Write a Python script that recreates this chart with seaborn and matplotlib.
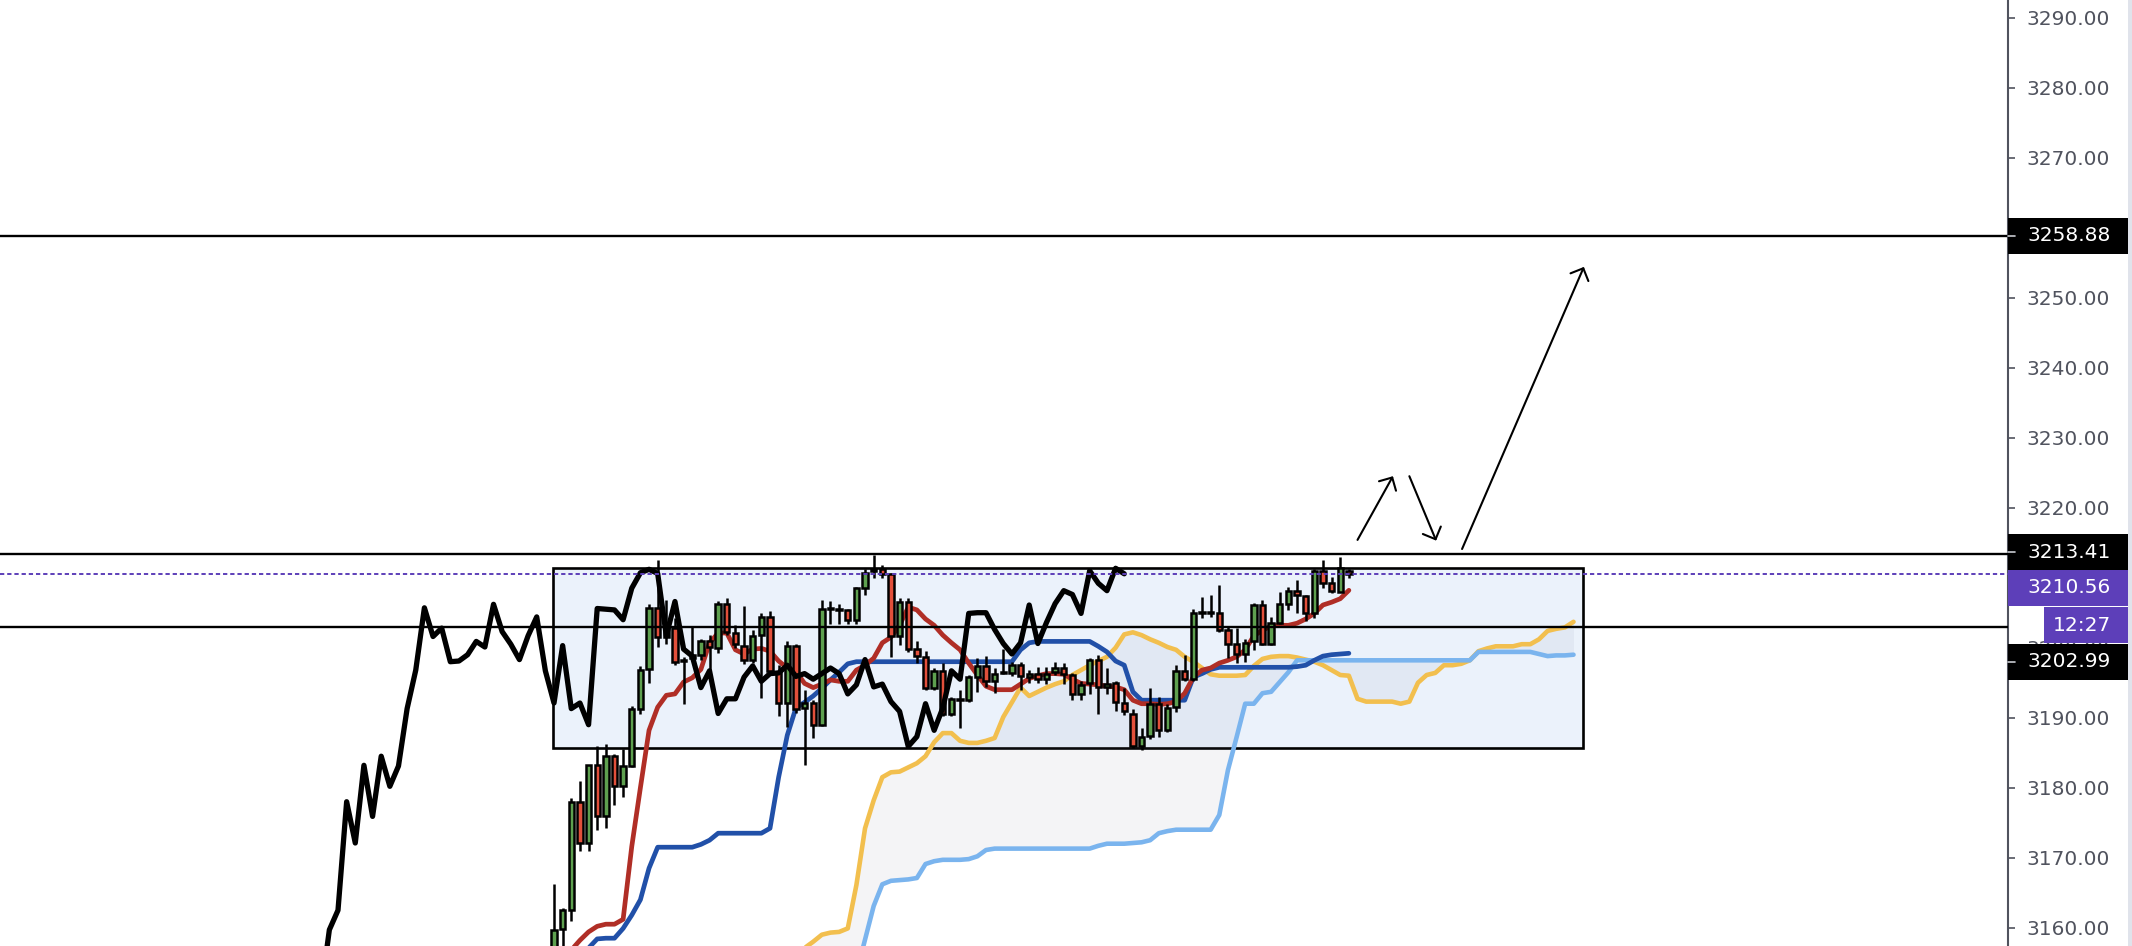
import matplotlib

matplotlib.use("Agg")

import matplotlib.pyplot as plt
import numpy as np
import pandas as pd
import seaborn as sns
from matplotlib.patches import Rectangle
from matplotlib.ticker import FuncFormatter


# candles, bar index starts at -1
FIRST_BAR = -1
opens = [
    3149.0, 3155.0, 3159.8, 3162.6, 3178.0, 3172.1, 3183.2, 3175.9, 3184.5, 3180.2,
    3183.1, 3191.3, 3196.9, 3205.7, 3201.6, 3202.8, 3198.2, 3198.6, 3199.0, 3200.9,
    3199.9, 3206.2, 3202.1, 3200.2, 3198.2, 3201.8, 3204.4, 3196.6, 3192.1, 3200.3,
    3191.35, 3192.1, 3189.0, 3205.5, 3205.4, 3205.4, 3204.0, 3208.6, 3210.9, 3211.2,
    3210.5, 3201.7, 3206.6, 3199.8, 3198.7, 3194.3, 3196.7, 3190.6, 3192.6, 3192.5,
    3195.8, 3197.4, 3195.2, 3196.4, 3196.4, 3197.5, 3195.8, 3196.3, 3195.5, 3196.6,
    3197.1, 3196.1, 3193.4, 3194.9, 3198.3, 3194.4, 3194.9, 3192.1, 3190.6, 3185.9,
    3187.4, 3192.0, 3188.2, 3191.6, 3196.7, 3195.5, 3205.0, 3205.0, 3204.9, 3202.6,
    3200.5, 3199.1, 3200.9, 3206.1, 3200.6, 3203.6, 3206.3, 3208.15, 3207.4, 3204.9,
    3211.0, 3209.2, 3208.0, 3211.0,
]
highs = [
    3152.5, 3166.3, 3162.8, 3178.6, 3180.9, 3183.3, 3185.9, 3186.3, 3184.8, 3185.6,
    3191.7, 3197.4, 3206.3, 3212.5, 3206.8, 3204.2, 3198.7, 3203.1, 3201.2, 3201.8,
    3206.7, 3207.1, 3203.2, 3205.9, 3202.6, 3205.0, 3205.2, 3197.5, 3201.0, 3200.5,
    3194.0, 3192.5, 3206.8, 3206.7, 3206.3, 3205.5, 3208.7, 3211.3, 3213.2, 3211.8,
    3210.7, 3207.1, 3207.1, 3201.0, 3199.5, 3197.1, 3197.8, 3193.0, 3194.0, 3196.1,
    3198.5, 3198.8, 3197.1, 3199.8, 3198.0, 3198.0, 3196.8, 3197.3, 3197.3, 3197.9,
    3197.8, 3196.4, 3195.2, 3198.5, 3198.9, 3197.1, 3195.3, 3194.3, 3191.2, 3188.5,
    3194.3, 3193.0, 3192.0, 3197.5, 3198.9, 3205.5, 3207.3, 3207.5, 3209.0, 3202.9,
    3202.8, 3201.2, 3206.4, 3206.8, 3204.4, 3207.9, 3208.7, 3209.7, 3207.6, 3211.3,
    3212.6, 3210.06, 3213.0, 3211.3,
]
lows = [
    3147.0, 3153.5, 3156.0, 3160.9, 3170.9, 3170.9, 3174.0, 3174.2, 3177.5, 3178.7,
    3183.0, 3190.5, 3194.9, 3200.1, 3200.6, 3197.5, 3191.9, 3198.4, 3198.2, 3196.4,
    3199.3, 3201.8, 3199.9, 3197.7, 3197.8, 3192.8, 3196.1, 3190.2, 3188.7, 3190.7,
    3183.2, 3187.1, 3188.8, 3203.4, 3203.4, 3203.4, 3203.4, 3207.5, 3209.9, 3209.9,
    3198.7, 3200.4, 3199.4, 3197.8, 3194.0, 3194.0, 3190.2, 3190.2, 3188.5, 3192.3,
    3193.7, 3194.4, 3193.5, 3196.2, 3195.9, 3194.0, 3194.9, 3194.9, 3194.8, 3196.1,
    3194.8, 3192.6, 3192.6, 3193.4, 3190.6, 3193.4, 3190.9, 3190.4, 3185.7, 3185.4,
    3187.0, 3187.2, 3188.0, 3190.8, 3195.2, 3195.2, 3204.2, 3204.4, 3202.3, 3198.6,
    3197.8, 3198.0, 3199.7, 3200.4, 3200.4, 3203.4, 3205.4, 3204.9, 3203.8, 3204.2,
    3208.5, 3207.8, 3207.9, 3210.0,
]
closes = [
    3150.5, 3159.7, 3162.5, 3178.0, 3172.1, 3183.2, 3175.9, 3184.5, 3180.2, 3183.1,
    3191.3, 3196.8, 3205.7, 3201.6, 3202.8, 3198.0, 3198.1, 3199.0, 3200.9, 3200.1,
    3206.2, 3202.3, 3200.5, 3198.3, 3201.7, 3204.4, 3196.7, 3192.1, 3200.3, 3191.3,
    3192.1, 3189.0, 3205.6, 3205.5, 3205.4, 3204.0, 3208.5, 3210.7, 3211.2, 3210.6,
    3201.7, 3206.6, 3199.8, 3198.8, 3194.3, 3196.7, 3190.6, 3192.7, 3192.7, 3195.8,
    3197.4, 3195.2, 3196.3, 3196.4, 3197.5, 3195.9, 3196.3, 3195.5, 3196.3, 3197.1,
    3196.3, 3193.4, 3194.7, 3198.3, 3194.4, 3194.8, 3192.3, 3190.9, 3185.9, 3187.3,
    3192.0, 3188.2, 3191.4, 3196.7, 3195.5, 3204.9, 3205.0, 3205.0, 3202.6, 3200.6,
    3199.1, 3200.7, 3206.1, 3200.6, 3203.6, 3206.3, 3208.15, 3207.6, 3204.9, 3211.0,
    3209.2, 3208.15, 3211.35, 3210.56,
]

# ichimoku lines
TENKAN_START = 2
tenkan = [
    3156.8, 3158.2, 3159.4, 3160.2, 3160.5, 3160.5, 3161.2, 3171.6, 3180.0, 3188.2,
    3191.5, 3193.2, 3193.4, 3195.1, 3195.7, 3196.9, 3200.7, 3202.1, 3202.1, 3199.7,
    3199.1, 3199.8, 3199.9, 3199.5, 3198.1, 3197.1, 3196.6, 3194.9, 3194.3, 3194.8,
    3195.4, 3195.2, 3195.2, 3196.8, 3197.5, 3198.5, 3200.7, 3201.5, 3203.2, 3205.8,
    3205.4, 3204.1, 3203.2, 3201.8, 3200.7, 3199.7, 3197.8, 3196.1, 3194.5, 3194.0,
    3194.0, 3194.0, 3194.8, 3195.6, 3196.0, 3196.3, 3196.3, 3196.2, 3195.5, 3194.9,
    3194.8, 3194.7, 3194.5, 3194.4, 3194.0, 3192.5, 3192.0, 3192.0, 3191.9, 3192.0,
    3192.3, 3193.5, 3195.8, 3196.8, 3197.1, 3197.8, 3198.2, 3198.7, 3199.7, 3201.7,
    3202.5, 3203.1, 3203.2, 3203.2, 3203.5, 3204.1, 3204.9, 3206.1, 3206.5, 3207.0,
    3208.2,
]
KIJUN_START = 3
kijun = [
    3154.5, 3157.1, 3158.4, 3158.5, 3158.5, 3159.9, 3161.8, 3164.0, 3168.5, 3171.5,
    3171.5, 3171.5, 3171.5, 3171.5, 3171.9, 3172.5, 3173.5, 3173.5, 3173.5, 3173.5,
    3173.5, 3173.5, 3174.2, 3181.5, 3187.5, 3191.4, 3192.2, 3193.1, 3194.2, 3195.4,
    3196.5, 3197.7, 3198.0, 3198.0, 3198.0, 3198.0, 3198.0, 3198.0, 3198.0, 3198.0,
    3198.0, 3198.0, 3198.0, 3198.0, 3198.0, 3198.0, 3198.0, 3198.0, 3198.0, 3198.0,
    3198.0, 3199.7, 3200.7, 3200.9, 3200.9, 3200.9, 3200.9, 3200.9, 3200.9, 3200.9,
    3200.2, 3199.4, 3198.1, 3197.5, 3193.7, 3192.5, 3192.5, 3192.5, 3192.5, 3192.5,
    3192.5, 3195.8, 3196.3, 3196.9, 3197.2, 3197.2, 3197.2, 3197.2, 3197.2, 3197.2,
    3197.2, 3197.2, 3197.2, 3197.3, 3197.5, 3198.2, 3198.8, 3199.0, 3199.1, 3199.2,
]
SPAN_START = 28
span_a = [
    3155.5, 3157.1, 3158.0, 3159.0, 3159.3, 3159.4, 3159.9, 3166.1, 3174.2, 3178.2,
    3181.5, 3182.2, 3182.3, 3182.9, 3183.5, 3184.5, 3186.5, 3187.8, 3187.8, 3186.7,
    3186.4, 3186.4, 3186.7, 3187.1, 3190.1, 3192.2, 3194.3, 3193.1, 3193.7, 3194.3,
    3194.8, 3195.2, 3196.1, 3196.8, 3197.5, 3198.1, 3198.7, 3200.0, 3201.9, 3202.2,
    3201.8, 3201.2, 3200.7, 3200.1, 3199.7, 3198.7, 3198.0, 3197.1, 3196.2, 3196.0,
    3196.0, 3196.0, 3196.1, 3197.4, 3198.4, 3198.7, 3198.8, 3198.8, 3198.6, 3198.3,
    3198.0, 3197.5, 3196.8, 3196.1, 3196.0, 3192.7, 3192.3, 3192.3, 3192.3, 3192.3,
    3192.0, 3192.3, 3195.0, 3196.1, 3196.4, 3197.5, 3197.5, 3197.7, 3198.2, 3199.5,
    3199.9, 3200.2, 3200.2, 3200.2, 3200.5, 3200.5, 3201.2, 3202.4, 3202.7, 3202.9,
    3203.7,
]
span_b = [
    3150.0, 3150.0, 3150.0, 3150.0, 3150.0, 3150.0, 3150.0, 3153.5, 3158.3, 3163.1,
    3166.2, 3166.7, 3166.8, 3166.9, 3167.1, 3169.1, 3169.5, 3169.7, 3169.7, 3169.7,
    3169.8, 3170.2, 3171.1, 3171.3, 3171.3, 3171.3, 3171.3, 3171.3, 3171.3, 3171.3,
    3171.3, 3171.3, 3171.3, 3171.3, 3171.3, 3171.7, 3172.0, 3172.0, 3172.0, 3172.1,
    3172.2, 3172.5, 3173.5, 3173.8, 3174.0, 3174.0, 3174.0, 3174.0, 3174.0, 3176.1,
    3182.5, 3187.2, 3192.0, 3192.0, 3193.5, 3193.7, 3195.1, 3196.5, 3198.2, 3198.2,
    3198.2, 3198.2, 3198.2, 3198.2, 3198.2, 3198.2, 3198.2, 3198.2, 3198.2, 3198.2,
    3198.2, 3198.2, 3198.2, 3198.2, 3198.2, 3198.2, 3198.2, 3198.2, 3198.2, 3199.4,
    3199.4, 3199.4, 3199.4, 3199.4, 3199.4, 3199.4, 3199.1, 3198.8, 3198.9, 3198.9,
    3199.0,
]
CHIKOU_SHIFT = 26

# drawings
level_prices = [3258.88, 3213.41, 3202.99]
last_price = 3210.56
countdown_text = "12:27"
range_bars = [-0.1, 119.1]
range_prices = [3185.7, 3211.45]
arrow_from_bar = [93.0, 99.0, 105.1]
arrow_from_price = [3215.4, 3224.5, 3214.1]
arrow_to_bar = [97.1, 102.1, 119.2]
arrow_to_price = [3224.5, 3215.3, 3254.4]
tick_prices = [3160, 3170, 3180, 3190, 3200, 3210, 3220, 3230, 3240, 3250, 3260, 3270, 3280, 3290]
hidden_ticks = [3210, 3260]  # fully covered by price labels

GREEN = "#5ea04f"
RED = "#e2503b"
PURPLE = "#5d3fb9"
AXIS_GREY = "#50535e"

W, H = 2132, 946
PLOT_W = 2008


def tick_text(value, pos):
    if round(value) in hidden_ticks:
        return ""
    return f"{value:.2f}"


def main():
    sns.set_theme(style="white")
    plt.rcParams["font.family"] = ["DejaVu Sans"]

    fig = plt.figure(figsize=(W / 100, H / 100), dpi=100)
    fig.patch.set_facecolor("white")
    ax = fig.add_axes([0, 0, PLOT_W / W, 1])
    ax.set_facecolor("white")

    bars = pd.DataFrame({"open": opens, "high": highs, "low": lows, "close": closes})
    bars["bar"] = np.arange(FIRST_BAR, FIRST_BAR + len(bars))
    rising = bars["close"] >= bars["open"]
    body_low = bars[["open", "close"]].min(axis=1)
    body_h = (bars["close"] - bars["open"]).abs().clip(lower=0.12)

    # range box
    ax.add_patch(Rectangle((range_bars[0], range_prices[0]), range_bars[1] - range_bars[0],
                           range_prices[1] - range_prices[0],
                           facecolor=(0.24, 0.5, 0.88, 0.1), edgecolor="black", lw=1.9, zorder=1.2))

    # cloud
    span_x = np.arange(SPAN_START, SPAN_START + len(span_a))
    ax.fill_between(span_x, span_a, span_b, color="#6e7590", alpha=0.075, lw=0, zorder=1.5)
    sns.lineplot(x=span_x, y=span_a, color="#f2bf4e", linewidth=3.3, ax=ax, sort=False, estimator=None, zorder=2)
    sns.lineplot(x=span_x, y=span_b, color="#7ab4ee", linewidth=3.3, ax=ax, sort=False, estimator=None, zorder=2)

    tk_x = np.arange(TENKAN_START, TENKAN_START + len(tenkan))
    kj_x = np.arange(KIJUN_START, KIJUN_START + len(kijun))
    sns.lineplot(x=kj_x, y=kijun, color="#2150a8", linewidth=3.4, ax=ax, sort=False, estimator=None, zorder=3)
    sns.lineplot(x=tk_x, y=tenkan, color="#b02e26", linewidth=3.4, ax=ax, sort=False, estimator=None, zorder=3)

    # candles
    ax.vlines(bars["bar"], bars["low"], bars["high"], color="black", lw=1.8, zorder=4)
    ax.bar(bars["bar"], body_h, bottom=body_low, width=0.62,
           color=np.where(rising, GREEN, RED), edgecolor="black", linewidth=1.8, zorder=4.1)

    # lagging span
    sns.lineplot(x=(bars["bar"] - CHIKOU_SHIFT).to_numpy(), y=bars["close"].to_numpy(), color="black",
                 linewidth=3.8, ax=ax, sort=False, estimator=None, zorder=5)

    for price in level_prices:
        ax.axhline(price, color="black", lw=1.7, zorder=6)
    ax.axhline(last_price, color=PURPLE, lw=1.4, linestyle=(0, (2.2, 1.5)), zorder=6)

    for x0, y0, x1, y1 in zip(arrow_from_bar, arrow_from_price, arrow_to_bar, arrow_to_price):
        ax.annotate("", xy=(x1, y1), xytext=(x0, y0),
                    arrowprops=dict(arrowstyle="->,head_length=0.5,head_width=0.5", color="black",
                                    lw=1.5, shrinkA=0, shrinkB=0, mutation_scale=14), zorder=7)

    # axes scale matches the screenshot: 8.64 px per bar, 7 px per point
    ax.set_xlim(-554 / 8.64, (PLOT_W - 554) / 8.64)
    ax.set_ylim(3292.53 - H / 7.0, 3292.53)
    ax.set_xlabel("")
    ax.set_ylabel("")

    ax.set_xticks([])
    ax.yaxis.tick_right()
    ax.set_yticks(tick_prices)
    ax.yaxis.set_major_formatter(FuncFormatter(tick_text))
    ax.tick_params(axis="y", direction="out", length=5, width=1.2, color=AXIS_GREY,
                   labelcolor=AXIS_GREY, labelsize=14.5, pad=8)
    for side in ["top", "left", "bottom"]:
        ax.spines[side].set_visible(False)
    ax.spines["right"].set_color(AXIS_GREY)
    ax.spines["right"].set_linewidth(1.5)

    # price labels on the scale
    trans = ax.get_yaxis_transform()
    box_h = 36 / 7.0
    text_x = 2027 / PLOT_W
    labels = [
        (f"{level_prices[0]:.2f}", level_prices[0], "black", 1.0, text_x),
        (f"{level_prices[1]:.2f}", 3213.67, "black", 1.0, text_x),
        (f"{last_price:.2f}", 3208.6, PURPLE, 1.0, text_x),
        (countdown_text, 3203.2, PURPLE, 2044 / PLOT_W, 2053 / PLOT_W),
        (f"{level_prices[2]:.2f}", 3198.0, "black", 1.0, text_x),
    ]
    for text, centre, colour, left, tx in labels:
        ax.add_patch(Rectangle((left, centre - box_h / 2), 2128 / PLOT_W - left, box_h,
                               transform=trans, facecolor=colour, edgecolor="none",
                               clip_on=False, zorder=10))
        ax.text(tx, centre, text, transform=trans, color="white", fontsize=14.5,
                va="center", ha="left", clip_on=False, zorder=11)
        if colour == "black":
            ax.plot([1.0, 1.0035], [centre, centre], transform=trans, color="#c8cad0",
                    lw=1.2, clip_on=False, zorder=11)

    fig.add_artist(Rectangle((2128 / W, 0), 4 / W, 1, transform=fig.transFigure,
                             facecolor="#e0e3eb", edgecolor="none"))

    fig.savefig("out.png", dpi=100)
    plt.close(fig)


if __name__ == "__main__":
    main()
